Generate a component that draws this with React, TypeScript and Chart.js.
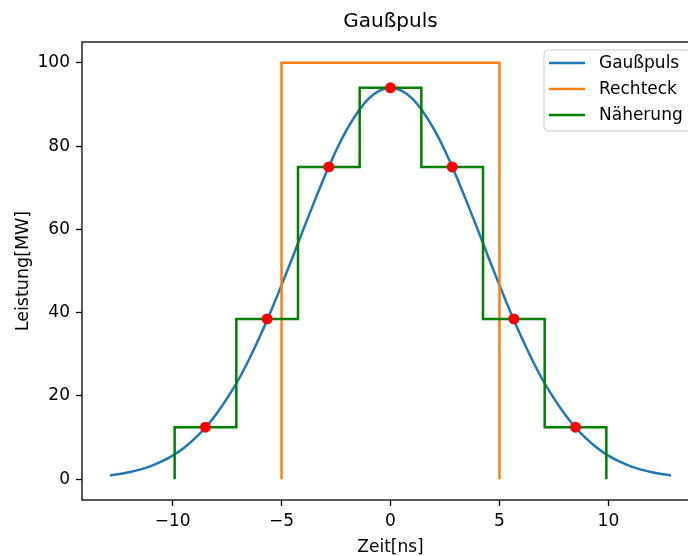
import React, { useEffect, useRef } from 'react';
import { Chart, registerables } from 'chart.js';

Chart.register(...registerables);

// Gaußpuls
const pulsX = [-12.87, -12.5, -12, -11.5, -11, -10.5, -10, -9.5, -9, -8.5, -8, -7.5, -7, -6.5, -6, -5.5, -5, -4.5, -4, -3.5, -3, -2.5, -2, -1.5, -1, -0.5, 0,
  0.5, 1, 1.5, 2, 2.5, 3, 3.5, 4, 4.5, 5, 5.5, 6, 6.5, 7, 7.5, 8, 8.5, 9, 9.5, 10, 10.5, 11, 11.5, 12, 12.5, 12.87];
const pulsY = [0.9, 1.17, 1.65, 2.29, 3.14, 4.25, 5.67, 7.45, 9.66, 12.35, 15.6, 19.4, 23.7, 28.7, 34.2, 40.2, 46.6, 53.2, 60.0, 66.6, 73.0, 78.9, 84.0, 88.2, 91.4, 93.3, 94.0,
  93.3, 91.4, 88.2, 84.0, 78.9, 73.0, 66.6, 60.0, 53.2, 46.6, 40.2, 34.2, 28.7, 23.7, 19.4, 15.6, 12.35, 9.66, 7.45, 5.67, 4.25, 3.14, 2.29, 1.65, 1.17, 0.9];

// Rechteck
const rechteckX = [-5, -5, 5, 5];
const rechteckY = [0, 100, 100, 0];

// Näherung (step centres and levels)
const stufenX = [-8.49, -5.66, -2.83, 0, 2.83, 5.66, 8.49];
const stufenY = [12.5, 38.5, 75, 94, 75, 38.5, 12.5];
const stufenBreite = 2.83;

const xTicks = [-10, -5, 0, 5, 10];
const yTicks = [0, 20, 40, 60, 80, 100];

const FONT = "'DejaVu Sans', sans-serif";

export default function App() {
  const ref = useRef<HTMLCanvasElement | null>(null);

  useEffect(() => {
    const canvas = ref.current;
    if (!canvas) return;

    const puls = pulsX.map((x, i) => ({ x, y: pulsY[i] }));
    const rechteck = rechteckX.map((x, i) => ({ x, y: rechteckY[i] }));
    const stufen: { x: number; y: number }[] = [];
    stufen.push({ x: stufenX[0] - stufenBreite / 2, y: 0 });
    stufenX.forEach((c, i) => {
      stufen.push({ x: c - stufenBreite / 2, y: stufenY[i] });
      stufen.push({ x: c + stufenBreite / 2, y: stufenY[i] });
    });
    stufen.push({ x: stufenX[stufenX.length - 1] + stufenBreite / 2, y: 0 });
    const punkte = stufenX.map((x, i) => ({ x, y: stufenY[i] }));

    const dMin = Math.min(...pulsX);
    const dMax = Math.max(...pulsX);
    const xm = (dMax - dMin) * 0.05;

    const framePlugin = {
      id: 'frame',
      afterDatasetsDraw(chart: any) {
        const { ctx, chartArea: a } = chart;
        ctx.save();
        ctx.strokeStyle = '#000';
        ctx.lineWidth = 1.3;
        ctx.strokeRect(a.left, a.top, a.right - a.left, a.bottom - a.top);
        ctx.restore();
      },
    };

    const legendPlugin = {
      id: 'mplLegend',
      afterDraw(chart: any) {
        const { ctx } = chart;
        const items = chart.data.datasets.filter((d: any) => d.inLegend);
        const bx = 544, by = 50, bw = 146, bh = 81, r = 4;
        ctx.save();
        ctx.beginPath();
        ctx.moveTo(bx + r, by);
        ctx.lineTo(bx + bw - r, by);
        ctx.arcTo(bx + bw, by, bx + bw, by + r, r);
        ctx.lineTo(bx + bw, by + bh - r);
        ctx.arcTo(bx + bw, by + bh, bx + bw - r, by + bh, r);
        ctx.lineTo(bx + r, by + bh);
        ctx.arcTo(bx, by + bh, bx, by + bh - r, r);
        ctx.lineTo(bx, by + r);
        ctx.arcTo(bx, by, bx + r, by, r);
        ctx.closePath();
        ctx.fillStyle = 'rgba(255,255,255,0.8)';
        ctx.fill();
        ctx.strokeStyle = '#cccccc';
        ctx.lineWidth = 1;
        ctx.stroke();
        items.forEach((d: any, i: number) => {
          const y = 63 + i * 26;
          ctx.beginPath();
          ctx.moveTo(549, y);
          ctx.lineTo(585, y);
          ctx.strokeStyle = d.borderColor;
          ctx.lineWidth = 2.5;
          ctx.stroke();
          ctx.fillStyle = '#000';
          ctx.font = `17px ${FONT}`;
          ctx.textBaseline = 'middle';
          ctx.textAlign = 'left';
          ctx.fillText(d.label, 599, y + 1);
        });
        ctx.restore();
      },
    };

    const tickFmt = (v: any) => (v < 0 ? '\u2212' + Math.abs(v) : String(v));

    const chart = new Chart(canvas, {
      type: 'line',
      data: {
        datasets: [
          { label: 'Gaußpuls', data: puls, borderColor: '#1f77b4', borderWidth: 2.5, pointRadius: 0, cubicInterpolationMode: 'monotone', order: 4, inLegend: true } as any,
          { label: 'Rechteck', data: rechteck, borderColor: '#ff7f0e', borderWidth: 2.5, pointRadius: 0, tension: 0, order: 3, inLegend: true } as any,
          { label: 'Näherung', data: stufen, borderColor: '#008000', borderWidth: 2.5, pointRadius: 0, tension: 0, order: 2, inLegend: true } as any,
          { label: 'Stützstellen', data: punkte, showLine: false, pointRadius: 5.5, pointBackgroundColor: '#ff0000', pointBorderWidth: 0, borderColor: '#ff0000', order: 1, inLegend: false } as any,
        ],
      },
      options: {
        responsive: true,
        maintainAspectRatio: false,
        animation: false,
        devicePixelRatio: 1,
        events: [],
        layout: { padding: { left: 0, right: 11, top: 0, bottom: 0 } },
        plugins: {
          legend: { display: false },
          tooltip: { enabled: false },
          title: {
            display: true,
            fullSize: false,
            text: 'Gaußpuls',
            color: '#000',
            font: { family: FONT, size: 20, weight: 'normal', lineHeight: 1.2 },
            padding: { top: 10, bottom: 8 },
          },
        },
        scales: {
          x: {
            type: 'linear',
            min: dMin - xm,
            max: dMax + xm,
            afterBuildTicks: (s: any) => { s.ticks = xTicks.map((v) => ({ value: v })); },
            afterFit: (s: any) => { s.height = 56; },
            ticks: { color: '#000', font: { family: FONT, size: 17 }, padding: 5, maxRotation: 0, callback: tickFmt },
            grid: { display: true, drawOnChartArea: false, drawTicks: true, tickLength: 6, tickColor: '#000', tickWidth: 1.3 },
            border: { display: false },
            title: { display: true, text: 'Zeit[ns]', color: '#000', font: { family: FONT, size: 17, lineHeight: 1 }, padding: 0 },
          },
          y: {
            type: 'linear',
            min: -5,
            max: 105,
            afterBuildTicks: (s: any) => { s.ticks = yTicks.map((v) => ({ value: v })); },
            afterFit: (s: any) => { s.width = 82; },
            ticks: { color: '#000', font: { family: FONT, size: 17 }, padding: 6, callback: tickFmt },
            grid: { display: true, drawOnChartArea: false, drawTicks: true, tickLength: 6, tickColor: '#000', tickWidth: 1.3 },
            border: { display: false },
            title: { display: true, text: 'Leistung[MW]', color: '#000', font: { family: FONT, size: 17.5, lineHeight: 1 }, padding: { top: 15, bottom: 0 } },
          },
        },
      } as any,
      plugins: [framePlugin, legendPlugin],
    });

    return () => chart.destroy();
  }, []);

  return (
    <div style={{ position: 'fixed', left: 0, top: 0, width: 688, height: 556, overflow: 'hidden', background: '#fff' }}>
      <div style={{ position: 'relative', width: 710, height: 556 }}>
        <canvas ref={ref} />
      </div>
    </div>
  );
}
